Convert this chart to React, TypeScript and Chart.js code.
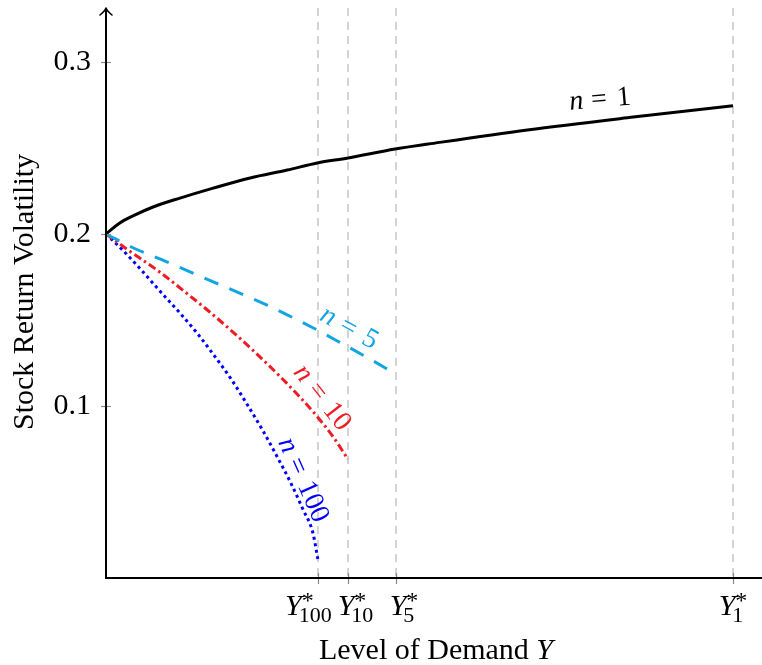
import React, { useEffect, useRef } from "react";
import { Chart, registerables } from "chart.js";

Chart.register(...registerables);

// ---- data (x in units of Y*_1, y = stock return volatility) ----
const n1X = [0, 0.022, 0.043, 0.075, 0.118, 0.171, 0.23, 0.289, 0.337, 0.386, 0.461, 0.514, 0.672, 0.841, 1.0];
const n1Y = [0.2, 0.2064, 0.2105, 0.2157, 0.2209, 0.2267, 0.2326, 0.2372, 0.2413, 0.2442, 0.2494, 0.2523, 0.2605, 0.268, 0.2746];

const n5X = [0, 0.043, 0.097, 0.171, 0.214, 0.257, 0.289, 0.33, 0.373, 0.416, 0.4625];
const n5Y = [0.2, 0.192, 0.1838, 0.1722, 0.1655, 0.1586, 0.153, 0.1455, 0.137, 0.1283, 0.1186];

const n10X = [0, 0.034, 0.086, 0.134, 0.166, 0.203, 0.234, 0.278, 0.309, 0.337, 0.362, 0.386];
const n10Y = [0.2, 0.191, 0.1778, 0.164, 0.1545, 0.1428, 0.1325, 0.117, 0.1053, 0.0938, 0.0822, 0.069];

const n100X = [0, 0.027, 0.054, 0.086, 0.118, 0.145, 0.166, 0.198, 0.225, 0.25, 0.273, 0.294, 0.314, 0.33, 0.338];
const n100Y = [0.2, 0.1905, 0.18, 0.1668, 0.154, 0.1425, 0.1325, 0.1165, 0.101, 0.0858, 0.0705, 0.0558, 0.04, 0.0262, 0.0108];

const xTickValues = [0.338, 0.386, 0.4625, 1.0];
const xTickSubscripts = ["100", "10", "5", "1"];
const yTickValues = [0.1, 0.2, 0.3];

const seriesNames = ["n = 1", "n = 5", "n = 10", "n = 100"];
// label anchors in data space and rotation (degrees)
const labelX = [0.788, 0.3876, 0.3445, 0.3142];
const labelY = [0.278, 0.1453, 0.1047, 0.057];
const labelAngle = [-5, 29, 52, 66];

const X_MAX = 1.0463;
const Y_MAX = 0.3314;

const COLORS = ["#000000", "#12a5e3", "#ee1c25", "#0000ff"];
const SERIF = '"Liberation Serif", "Times New Roman", serif';
const FS = 30;

const zip = (xs: number[], ys: number[]) => xs.map((x, i) => ({ x, y: ys[i] }));

const decorPlugin = {
  id: "decor",
  afterDatasetsDraw(chart: any) {
    const ctx: CanvasRenderingContext2D = chart.ctx;
    const xs = chart.scales.x;
    const ys = chart.scales.y;
    const { left, right, top, bottom } = chart.chartArea;
    ctx.save();

    // tick marks (gray, crossing the axes)
    ctx.strokeStyle = "#8a8a8a";
    ctx.lineWidth = 1.2;
    yTickValues.forEach((v) => {
      const py = Math.round(ys.getPixelForValue(v)) + 0.5;
      ctx.beginPath();
      ctx.moveTo(left - 5, py);
      ctx.lineTo(left + 5, py);
      ctx.stroke();
    });
    xTickValues.forEach((v) => {
      const px = Math.round(xs.getPixelForValue(v)) + 0.5;
      ctx.beginPath();
      ctx.moveTo(px, bottom - 5);
      ctx.lineTo(px, bottom + 6);
      ctx.stroke();
    });

    // axes
    ctx.strokeStyle = "#000";
    ctx.lineWidth = 2;
    ctx.lineCap = "butt";
    ctx.beginPath();
    ctx.moveTo(left, bottom);
    ctx.lineTo(left, top + 1);
    ctx.moveTo(left - 1, bottom);
    ctx.lineTo(right + 10, bottom);
    ctx.stroke();
    // arrow head on y-axis
    ctx.lineWidth = 1.6;
    ctx.lineJoin = "round";
    ctx.lineCap = "round";
    ctx.beginPath();
    ctx.moveTo(left - 6, top + 7);
    ctx.quadraticCurveTo(left - 1, top + 3, left, top);
    ctx.quadraticCurveTo(left + 1, top + 3, left + 6, top + 7);
    ctx.stroke();

    ctx.fillStyle = "#000";
    // x tick labels: Y*_{sub}
    const labelShift = [-9, 8, 8, 0];
    const subSize = Math.round(FS * 0.72);
    xTickValues.forEach((v, i) => {
      const cx = xs.getPixelForValue(v) + labelShift[i];
      ctx.font = `italic ${FS}px ${SERIF}`;
      const wY = ctx.measureText("Y").width;
      ctx.font = `${subSize}px ${SERIF}`;
      const wSub = ctx.measureText(xTickSubscripts[i]).width;
      const wSup = ctx.measureText("*").width;
      const total = wY - 2 + Math.max(wSub, wSup + 3);
      const x0 = cx - total / 2;
      const base = bottom + 37;
      ctx.textAlign = "left";
      ctx.textBaseline = "alphabetic";
      ctx.font = `italic ${FS}px ${SERIF}`;
      ctx.fillText("Y", x0, base);
      ctx.font = `${subSize}px ${SERIF}`;
      ctx.fillText(xTickSubscripts[i], x0 + wY - 3, base + 7);
      ctx.font = `${Math.round(FS * 0.8)}px ${SERIF}`;
      ctx.fillText("*", x0 + wY + 0, base - 7);
    });

    // x axis title
    ctx.textBaseline = "alphabetic";
    ctx.font = `${FS}px ${SERIF}`;
    const t1 = "Level of Demand ";
    const w1 = ctx.measureText(t1).width;
    ctx.font = `italic ${FS}px ${SERIF}`;
    const w2 = ctx.measureText("Y").width;
    const xt0 = 436 - (w1 + w2) / 2;
    ctx.textAlign = "left";
    ctx.font = `${FS}px ${SERIF}`;
    ctx.fillText(t1, xt0, bottom + 81);
    ctx.font = `italic ${FS}px ${SERIF}`;
    ctx.fillText("Y", xt0 + w1, bottom + 81);

    // y axis title
    ctx.save();
    ctx.translate(33, 292);
    ctx.rotate(-Math.PI / 2);
    ctx.font = `${FS}px ${SERIF}`;
    ctx.textAlign = "center";
    ctx.fillText("Stock Return Volatility", 0, 0);
    ctx.restore();

    // curve labels
    seriesNames.forEach((name, i) => {
      const px = xs.getPixelForValue(labelX[i]);
      const py = ys.getPixelForValue(labelY[i]);
      ctx.save();
      ctx.translate(px, py);
      ctx.rotate((labelAngle[i] * Math.PI) / 180);
      ctx.fillStyle = COLORS[i];
      ctx.textBaseline = "middle";
      const parts = name.split(" = ");
      const lf = 28;
      ctx.font = `italic ${lf}px ${SERIF}`;
      const wn = ctx.measureText(parts[0]).width;
      ctx.font = `${lf}px ${SERIF}`;
      const weq = ctx.measureText(" = ").width + 4;
      const wv = ctx.measureText(parts[1]).width;
      const tot = wn + weq + wv;
      let x = -tot / 2;
      ctx.textAlign = "left";
      ctx.font = `italic ${lf}px ${SERIF}`;
      ctx.fillText(parts[0], x, 0);
      x += wn;
      ctx.font = `${lf}px ${SERIF}`;
      ctx.fillText("=", x + 8, 0);
      x += weq;
      ctx.fillText(parts[1], x, 0);
      ctx.restore();
    });

    ctx.restore();
  },
};

export default function App() {
  const ref = useRef<HTMLCanvasElement>(null);

  useEffect(() => {
    if (!ref.current) return;
    const chart = new Chart(ref.current, {
      type: "line",
      data: {
        datasets: [
          {
            label: seriesNames[0],
            data: zip(n1X, n1Y),
            borderColor: COLORS[0],
            borderWidth: 3,
            pointRadius: 0,
            cubicInterpolationMode: "monotone",
          },
          {
            label: seriesNames[1],
            data: zip(n5X, n5Y),
            borderColor: COLORS[1],
            borderWidth: 3,
            borderDash: [15, 12],
            pointRadius: 0,
            cubicInterpolationMode: "monotone",
          },
          {
            label: seriesNames[2],
            data: zip(n10X, n10Y),
            borderColor: COLORS[2],
            borderWidth: 3,
            borderDash: [8, 3.5, 2.5, 3.5],
            pointRadius: 0,
            cubicInterpolationMode: "monotone",
          },
          {
            label: seriesNames[3],
            data: zip(n100X, n100Y),
            borderColor: COLORS[3],
            borderWidth: 3,
            borderDash: [3, 3.5],
            pointRadius: 0,
            cubicInterpolationMode: "monotone",
          },
        ],
      },
      options: {
        animation: false,
        responsive: true,
        maintainAspectRatio: false,
        layout: { padding: { top: 8, right: 0, left: 0, bottom: 0 } },
        plugins: {
          legend: { display: false },
          tooltip: { enabled: false },
        },
        scales: {
          x: {
            type: "linear",
            min: 0,
            max: X_MAX,
            afterBuildTicks: (s: any) => {
              s.ticks = xTickValues.map((v) => ({ value: v }));
            },
            afterFit: (s: any) => {
              s.height = 87;
              s.paddingLeft = 0;
              s.paddingRight = 0;
              s.paddingTop = 0;
              s.paddingBottom = 0;
            },
            ticks: { display: false },
            grid: { color: "#d4d4d4", lineWidth: 2, drawTicks: false },
            border: { display: false, dash: [8, 6] },
          },
          y: {
            type: "linear",
            min: 0,
            max: Y_MAX,
            afterBuildTicks: (s: any) => {
              s.ticks = yTickValues.map((v) => ({ value: v }));
            },
            afterFit: (s: any) => {
              s.width = 106;
              s.paddingLeft = 0;
              s.paddingRight = 0;
              s.paddingTop = 0;
              s.paddingBottom = 0;
            },
            ticks: {
              padding: 15,
              color: "#000",
              font: { family: SERIF, size: FS },
              callback: (v: any) => String(v),
            },
            grid: { display: false, drawTicks: false },
            border: { display: false },
          },
        },
      },
      plugins: [decorPlugin],
    });
    return () => chart.destroy();
  }, []);

  return (
    <div style={{ position: "fixed", left: 0, top: 0, width: 762, height: 665, background: "#fff" }}>
      <canvas ref={ref} />
    </div>
  );
}
